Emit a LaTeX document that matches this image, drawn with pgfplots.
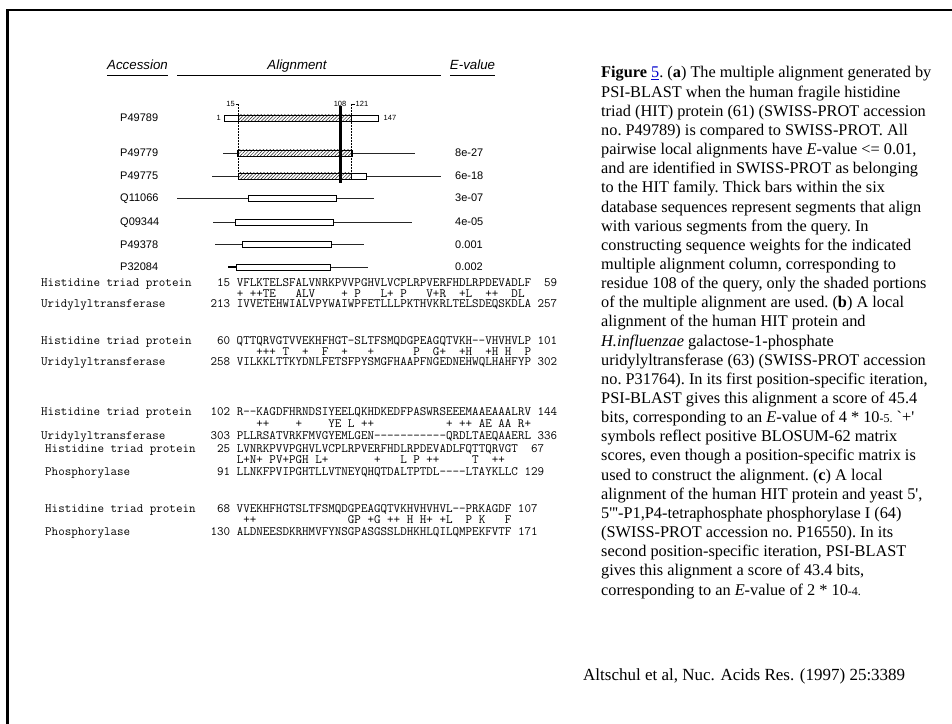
\documentclass[border=0pt]{standalone}
\usepackage{fontspec}
\setmainfont{Liberation Serif}
\newfontfamily\hv{Liberation Sans}
\usepackage{pgfplots}
\pgfplotsset{compat=1.18}
\usetikzlibrary{patterns.meta}
\tikzset{
 sq/.style={anchor=base west,inner sep=0pt,font=\ttfamily\fontsize{12.7bp}{12.7bp}\selectfont},
 lb/.style={anchor=base west,inner sep=0pt,font=\hv\fontsize{11bp}{11bp}\selectfont},
 hd/.style={anchor=base,inner sep=0pt,font=\hv\itshape\fontsize{13.3bp}{13.3bp}\selectfont},
 sm/.style={inner sep=0pt,font=\hv\fontsize{7.5bp}{7.5bp}\selectfont},
 hatch/.style={draw=black,line width=0.7pt,pattern={Lines[angle=45,distance=2.4pt,line width=0.5pt]},pattern color=black!85},
 wbox/.style={draw=black,line width=0.7pt,fill=white},
 bb/.style={black!85,line width=0.7pt},
}
\begin{document}
\begin{tikzpicture}[x=1bp,y=1bp]
\useasboundingbox (0,0) rectangle (952,724);
\begin{axis}[at={(0,0)},anchor=south west,scale only axis,width=952bp,height=724bp,
  xmin=0,xmax=952,ymin=0,ymax=724,y dir=reverse,hide axis,clip=false]
% frame
\addplot[line width=2.6pt] coordinates {(7.3,730)(7.3,10)(960,10)};
% header underlines
\addplot[line width=1.8pt] coordinates {(107,75.5)(168,75.5)};
\addplot[line width=1.8pt] coordinates {(177,75.5)(441,75.5)};
\addplot[line width=1.8pt] coordinates {(450,75.5)(495,75.5)};
% backbones
\addplot[bb] coordinates {(223,153)(415,153)};
\addplot[bb] coordinates {(212,176)(441,176)};
\addplot[bb] coordinates {(177,198)(374,198)};
\addplot[bb] coordinates {(213,222)(412,222)};
\addplot[bb] coordinates {(215,244.5)(364,244.5)};
\addplot[bb] coordinates {(228,267)(368,267)};
\addplot[line width=1.3pt] coordinates {(228,267)(236,267)};
% white boxes
\addplot[wbox] coordinates {(224,115)(378,115)(378,121)(224,121)} -- cycle;
\addplot[wbox] coordinates {(237,150)(352,150)(352,156)(237,156)} -- cycle;
\addplot[wbox] coordinates {(238,173)(366,173)(366,179)(238,179)} -- cycle;
\addplot[wbox] coordinates {(248,195)(336,195)(336,201)(248,201)} -- cycle;
\addplot[wbox] coordinates {(235,219)(333,219)(333,225)(235,225)} -- cycle;
\addplot[wbox] coordinates {(242,241.5)(331,241.5)(331,247.5)(242,247.5)} -- cycle;
\addplot[wbox] coordinates {(236,264)(330,264)(330,270)(236,270)} -- cycle;
% hatched segments
\addplot[hatch] coordinates {(238.3,115)(351.7,115)(351.7,121)(238.3,121)} -- cycle;
\addplot[hatch] coordinates {(238.3,150)(351.7,150)(351.7,156)(238.3,156)} -- cycle;
\addplot[hatch] coordinates {(238.3,173)(351.7,173)(351.7,179)(238.3,179)} -- cycle;
% dotted guides and column marker
\addplot[densely dotted,line width=0.5pt] coordinates {(238.3,104)(238.3,179)};
\addplot[densely dotted,line width=0.5pt] coordinates {(351.7,104)(351.7,179)};
\addplot[line width=0.5pt] coordinates {(235.5,104)(238.3,104)};
\addplot[line width=0.5pt] coordinates {(351.7,104)(354.5,104)};
\addplot[line width=2.7pt] coordinates {(340.7,106)(340.7,183.5)};
% small position labels
\node[sm,anchor=base east] at (221,120.8) {1};
\node[sm,anchor=base west] at (383.5,120.8) {147};
\node[sm,anchor=base east] at (235,106.5) {15};
\node[sm,anchor=base] at (340,106.5) {108};
\node[sm,anchor=base west] at (355.5,106.5) {121};
% headers
\node[hd] at (137.5,70) {Accession};
\node[hd] at (297,70) {Alignment};
\node[hd] at (472.5,70) {E-value};
% accessions and E-values
\node[lb] at (120,122) {P49789};
\node[lb] at (120,157) {P49779};
\node[lb] at (120,180) {P49775};
\node[lb] at (120,202) {Q11066};
\node[lb] at (120,226) {Q09344};
\node[lb] at (120,248.5) {P49378};
\node[lb] at (120,271) {P32084};
\node[lb] at (455,157) {8e-27};
\node[lb] at (455,180) {6e-18};
\node[lb] at (455,202) {3e-07};
\node[lb] at (455,226) {4e-05};
\node[lb] at (455,248.5) {0.001};
\node[lb] at (455,271) {0.002};
% (b) alignment
\node[sq] at (41,286.6) {Histidine triad protein};
\node[sq] at (210.4,286.6) {~15~VFLKTELSFALVNRKPVVPGHVLVCPLRPVERFHDLRPDEVADLF~~59};
\node[sq] at (210.4,297.1) {~~~~+~++TE~~~ALV~~~~+~P~~~L+~P~~~V+R~~+L~~++~~DL};
\node[sq] at (41,307.6) {Uridylyltransferase};
\node[sq] at (210.4,307.6) {213~IVVETEHWIALVPYWAIWPFETLLLPKTHVKRLTELSDEQSKDLA~257};
\node[sq] at (41,344.6) {Histidine triad protein};
\node[sq] at (210.4,344.6) {~60~QTTQRVGTVVEKHFHGT{-}SLTFSMQDGPEAGQTVKH{-}{-}VHVHVLP~101};
\node[sq] at (210.4,355.1) {~~~~~~~+++~T~~+~~F~~+~~~+~~~~~~P~~G+~~+H~~+H~H~~P};
\node[sq] at (41,365.6) {Uridylyltransferase};
\node[sq] at (210.4,365.6) {258~VILKKLTTKYDNLFETSFPYSMGFHAAPFNGEDNEHWQLHAHFYP~302};
\node[sq] at (41,415.6) {Histidine triad protein};
\node[sq] at (210.4,415.6) {102~R{-}{-}KAGDFHRNDSIYEELQKHDKEDFPASWRSEEEMAAEAAALRV~144};
\node[sq] at (210.4,427.6) {~~~~~~~++~~~~+~~~~YE~L~++~~~~~~~~~~~+~++~AE~AA~R+};
\node[sq] at (41,439.6) {Uridylyltransferase};
\node[sq] at (210.4,439.6) {303~PLLRSATVRKFMVGYEMLGEN{-}{-}{-}{-}{-}{-}{-}{-}{-}{-}{-}QRDLTAEQAAERL~336};
% (c) alignment
\node[sq] at (45,452.1) {Histidine triad protein};
\node[sq] at (210.4,452.1) {~25~LVNRKPVVPGHVLVCPLRPVERFHDLRPDEVADLFQTTQRVGT~~67};
\node[sq] at (210.4,463.6) {~~~~L+N+~PV+PGH~L+~~~~~~~+~~~L~P~++~~~~~T~~++};
\node[sq] at (45,475.1) {Phosphorylase};
\node[sq] at (210.4,475.1) {~91~LLNKFPVIPGHTLLVTNEYQHQTDALTPTDL{-}{-}{-}{-}LTAYKLLC~129};
\node[sq] at (45,512.6) {Histidine triad protein};
\node[sq] at (210.4,512.6) {~68~VVEKHFHGTSLTFSMQDGPEAGQTVKHVHVHVL{-}{-}PRKAGDF~107};
\node[sq] at (210.4,523.6) {~~~~~++~~~~~~~~~~~~~~GP~+G~++~H~H+~+L~~P~K~~~F};
\node[sq] at (45,535.1) {Phosphorylase};
\node[sq] at (210.4,535.1) {130~ALDNEESDKRHMVFYNSGPASGSSLDHKHLQILQMPEKFVTF~171};
% caption
\node[anchor=base west,inner sep=0pt] at (601,78) {\fontsize{16.3bp}{19.15bp}\selectfont\frenchspacing
\begin{tabular}[t]{@{}l@{}}
\textbf{Figure} \textcolor{blue!80!black}{\underline{5}}. (\textbf{a}) The multiple alignment generated by\\
PSI-BLAST when the human fragile histidine\\
triad (HIT) protein (61) (SWISS-PROT accession\\
no. P49789) is compared to SWISS-PROT. All\\
pairwise local alignments have \textit{E}-value <= 0.01,\\
and are identified in SWISS-PROT as belonging\\
to the HIT family. Thick bars within the six\\
database sequences represent segments that align\\
with various segments from the query. In\\
constructing sequence weights for the indicated\\
multiple alignment column, corresponding to\\
residue 108 of the query, only the shaded portions\\
of the multiple alignment are used. (\textbf{b}) A local\\
alignment of the human HIT protein and\\
\textit{H.influenzae} galactose-1-phosphate\\
uridylyltransferase (63) (SWISS-PROT accession\\
no. P31764). In its first position-specific iteration,\\
PSI-BLAST gives this alignment a score of 45.4\\
bits, corresponding to an \textit{E}-value of 4 * 10{\fontsize{12bp}{12bp}\selectfont -5.} \textasciigrave+\textquotesingle\\
symbols reflect positive BLOSUM-62 matrix\\
scores, even though a position-specific matrix is\\
used to construct the alignment. (\textbf{c}) A local\\
alignment of the human HIT protein and yeast 5\textquotesingle,\\
5\textquotesingle\textquotesingle\textquotesingle-P1,P4-tetraphosphate phosphorylase I (64)\\
(SWISS-PROT accession no. P16550). In its\\
second position-specific iteration, PSI-BLAST\\
gives this alignment a score of 43.4 bits,\\
corresponding to an \textit{E}-value of 2 * 10{\fontsize{12bp}{12bp}\selectfont -4.}
\end{tabular}};
\node[anchor=base west,inner sep=0pt,font=\fontsize{17bp}{17bp}\selectfont] at (583,680) {Altschul et al, Nuc. Acids Res. (1997) 25:3389};
\end{axis}
\end{tikzpicture}
\end{document}
